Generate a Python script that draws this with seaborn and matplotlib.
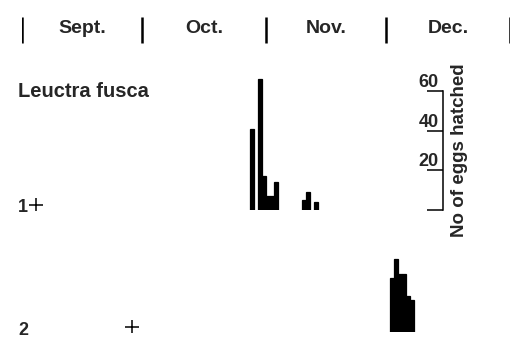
import matplotlib
matplotlib.use("Agg")
import matplotlib.pyplot as plt
from matplotlib.ticker import FixedLocator, FixedFormatter
import seaborn as sns
import pandas as pd

# Season axis: day number counted from 1 September (1 Sept = day 1)
month_names = ["Sept.", "Oct.", "Nov.", "Dec."]
month_starts = [1, 31, 62, 92, 123]          # first day of each month (123 = 1 Jan)

# Batch 1: eggs hatched per day
batch1_days = [58, 59, 60, 61, 62, 63, 64, 71, 72, 73, 74]
batch1_eggs = [41, 0, 66, 17, 7, 7, 14, 5, 9, 0, 4]
batch1_laid = 4                                # day the batch was laid (+)

# Batch 2: eggs hatched per day
batch2_days = [93, 94, 95, 96, 97, 98]
batch2_eggs = [27, 37, 29, 29, 18, 16]
batch2_laid = 28

species = "Leuctra fusca"
scale_ticks = [0, 20, 40, 60]
scale_labels = ["", "20", "40", "60"]
scale_title = "No of eggs hatched"
scale_day = 105.75                              # where the egg-count scale stands

sns.set_style("white")
plt.rcParams["font.family"] = ["Liberation Sans", "DejaVu Sans"]
plt.rcParams["font.weight"] = "bold"

W, H = 525, 338
fig = plt.figure(figsize=(W / 100, H / 100), dpi=100)

x0_px, x1_px = 22, 510
px_per_egg = 1.983


def axes_px(left, top, right, bottom):
    return [left / W, 1 - bottom / H, (right - left) / W, (bottom - top) / H]


xlim = (month_starts[0] - 0.5, month_starts[-1] - 0.5)

# Header with month boundaries and names
ax0 = fig.add_axes(axes_px(x0_px, 15, x1_px, 45))
ax0.set_xlim(*xlim)
ax0.set_ylim(0, 1)
ax0.vlines([d - 0.5 for d in month_starts], 0.07, 0.93, color="black", lw=1.8)
for name, a, b in zip(month_names, month_starts[:-1], month_starts[1:]):
    ax0.text((a + b) / 2 - 0.5, 0.4, name, ha="center", va="baseline",
             fontsize=14, fontweight="bold")
ax0.axis("off")

bar_style = dict(native_scale=True, width=1.0, color="black",
                 edgecolor="black", linewidth=0.9, errorbar=None,
                 saturation=1)

# Batch 1 panel
top1 = 210 - 70 * px_per_egg
ax1 = fig.add_axes(axes_px(x0_px, top1, x1_px, 210))
df1 = pd.DataFrame({"day": batch1_days, "eggs": batch1_eggs})
sns.barplot(data=df1, x="day", y="eggs", ax=ax1, **bar_style)
for p, v in zip(ax1.patches, batch1_eggs):
    if v == 0:
        p.set_linewidth(0)
ax1.plot([batch1_laid], [2.5], marker="+", color="black", ms=10, mew=1.1,
         ls="none")
ax1.set_xlim(*xlim)
ax1.set_ylim(0, 70)
ax1.set_xlabel("")
ax1.set_ylabel("")
ax1.set_xticks([])
for s in ["top", "right", "bottom"]:
    ax1.spines[s].set_visible(False)
ax1.spines["left"].set_position(("data", scale_day))
ax1.spines["left"].set_bounds(0, 60)
ax1.spines["left"].set_linewidth(1.1)
ax1.spines["left"].set_color("black")
ax1.yaxis.set_major_locator(FixedLocator(scale_ticks))
ax1.yaxis.set_major_formatter(FixedFormatter(scale_labels))
ax1.tick_params(axis="y", direction="out", length=11.5, width=1.1,
                color="black", pad=-8.6, labelsize=13, left=True)
for lab in ax1.get_yticklabels():
    lab.set_verticalalignment("bottom")
    lab.set_fontweight("bold")
ax1.text(scale_day + 2.0, 30, scale_title, rotation=90, ha="left",
         va="center", fontsize=13.5, fontweight="bold")
ax1.patch.set_alpha(0)

# Batch 2 panel
top2 = 332 - 40 * px_per_egg
ax2 = fig.add_axes(axes_px(x0_px, top2, x1_px, 332))
df2 = pd.DataFrame({"day": batch2_days, "eggs": batch2_eggs})
sns.barplot(data=df2, x="day", y="eggs", ax=ax2, **bar_style)
ax2.plot([batch2_laid], [2.5], marker="+", color="black", ms=10, mew=1.1,
         ls="none")
ax2.set_xlim(*xlim)
ax2.set_ylim(0, 40)
ax2.axis("off")

# Labels
fig.text(18 / W, 1 - 97 / H, species, fontsize=14.5, fontweight="bold",
         ha="left", va="baseline")
fig.text(18 / W, 1 - 212 / H, "1", fontsize=13, fontweight="bold",
         ha="left", va="baseline")
fig.text(18 / W, 1 - 335 / H, "2", fontsize=13, fontweight="bold",
         ha="left", va="baseline")

fig.savefig("out.png", dpi=100)
